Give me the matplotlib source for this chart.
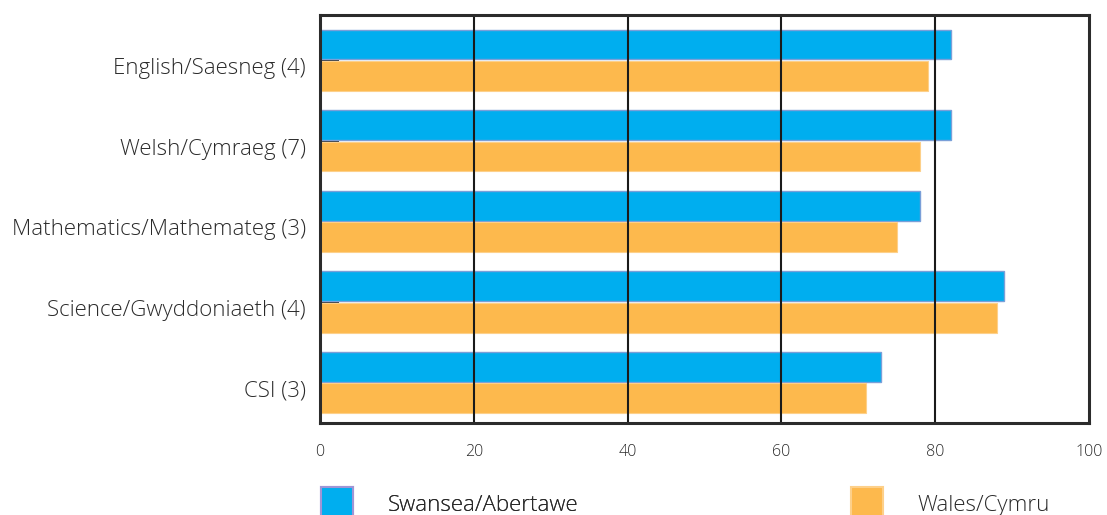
import matplotlib
matplotlib.use("Agg")
import matplotlib.pyplot as plt
import matplotlib.transforms as mtransforms
import numpy as np

categories = ["English/Saesneg (4)", "Welsh/Cymraeg (7)", "Mathematics/Mathemateg (3)",
              "Science/Gwyddoniaeth (4)", "CSI (3)"]
swansea = [82, 82, 78, 89, 73]
wales = [79, 78, 75, 88, 71]
series_names = ["Swansea/Abertawe", "Wales/Cymru"]
xticks = [0, 20, 40, 60, 80, 100]

plt.rcParams['font.family'] = ['Open Sans', 'DejaVu Sans']
text_color = '#2a2a2a'

fig = plt.figure(figsize=(11.07, 5.15), dpi=100)
ax = fig.add_axes([320/1107, 1-423/515, (1089-320)/1107, (423-15)/515])

y = np.arange(len(categories))
h = 0.37
b1 = ax.barh(y - h/2 - 0.01, swansea, height=h, color='#00AEEF', edgecolor='#7a9fd8', linewidth=1.0, zorder=2)
b2 = ax.barh(y + h/2 + 0.01, wales, height=h, color='#FDB94D', edgecolor='#fdd08a', linewidth=0.8, zorder=2)

ax.set_xlim(0, 100)
ax.set_ylim(4.50, -0.56)
ax.set_xticks(xticks)
ax.set_xticklabels([str(v) for v in xticks])
ax.set_yticks(y)
ax.set_yticklabels(categories)

for v in xticks[1:-1]:
    ax.axvline(v, color='#1a1a1a', linewidth=1.5, zorder=3)

ax.tick_params(axis='y', direction='in', length=14, width=1.5, color='#333333', pad=10,
               labelsize=16, labelcolor=text_color)
ax.tick_params(axis='x', length=0, pad=15, labelsize=11.5, labelcolor=text_color)
for lab in ax.get_yticklabels():
    lab.set_fontweight('light')
    lab.set_transform(lab.get_transform() + mtransforms.ScaledTranslation(0, -6/100, fig.dpi_scale_trans))
for lab in ax.get_xticklabels():
    lab.set_fontweight('light')
for s in ax.spines.values():
    s.set_linewidth(2.2)
    s.set_color('#2b2b2b')
    s.set_zorder(4)

leg_kw = dict(loc='upper left', frameon=False, handlelength=1.45, handleheight=1.9,
              borderpad=0, borderaxespad=0, labelcolor=text_color,
              prop={'weight': 'light', 'size': 16}, handletextpad=1.55)
leg1 = fig.legend([b1], [series_names[0]], bbox_to_anchor=(321/1107, 1-487/515), **leg_kw)
fig.add_artist(leg1)
leg2 = fig.legend([b2], [series_names[1]], bbox_to_anchor=(851/1107, 1-487/515), **leg_kw)
for lg in (leg1, leg2):
    for hnd in lg.legend_handles:
        hnd.set_linewidth(1.5)
leg1.legend_handles[0].set_edgecolor('#9f95d6')

fig.savefig("out.png", dpi=100)
